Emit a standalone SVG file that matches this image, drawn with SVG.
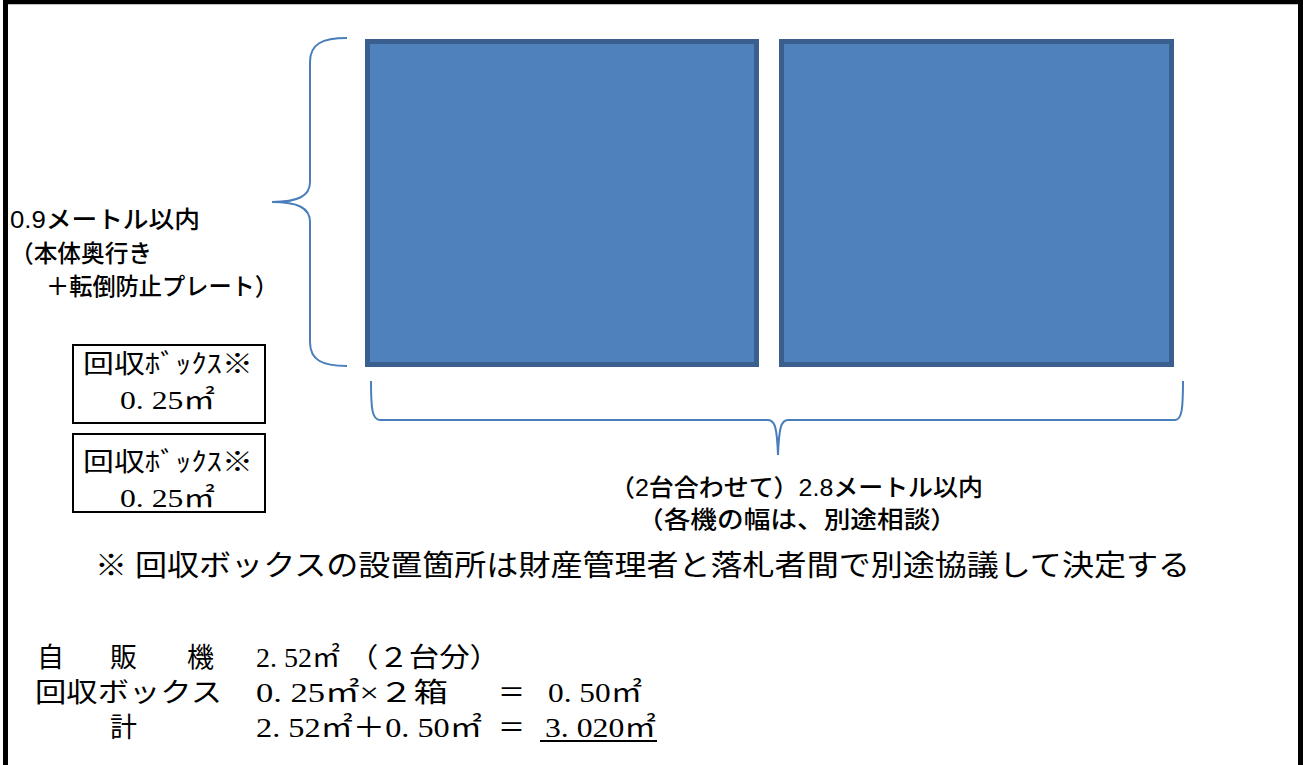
<svg xmlns="http://www.w3.org/2000/svg" width="1303" height="765" viewBox="0 0 1303 765">
<style>
.frame{stroke:#000;fill:none}
.machine{fill:#4F81BD;stroke:#3A5F8F;stroke-width:5}
.brace{fill:none;stroke:#4A7EBB;stroke-width:2}
.box{fill:#fff;stroke:#000;stroke-width:2}
.sans{font-family:"Liberation Sans","Noto Sans CJK JP",sans-serif;fill:#000;font-weight:500}
.serif{font-family:"Liberation Serif","Noto Sans CJK JP",serif;fill:#000}
</style>
<rect width="1303" height="765" fill="#fff"/>
<g id="frame" class="frame">
<line x1="3" y1="2" x2="1303" y2="2" stroke-width="4.5"/>
<line x1="5.5" y1="0" x2="5.5" y2="765" stroke-width="5"/>
<line x1="1300.5" y1="0" x2="1300.5" y2="765" stroke-width="5"/>
</g>
<g id="machine1"><rect class="machine" x="367.5" y="41.5" width="389" height="323"/></g>
<g id="machine2"><rect class="machine" x="781.5" y="41.5" width="390" height="323"/></g>
<g id="connectors">
<path class="brace" d="M347,38 C322,38 310,44 310,62 L310,182 C310,196 298,202 272,202 C298,202 310,208 310,222 L310,342 C310,360 322,366 347,366"/>
<path class="brace" d="M371,381 C371,408 372,420 380,420 L768,420 C775,420 777,428 778,455 C779,428 781,420 788,420 L1175,420 C1182,420 1183,408 1183,381"/>
</g>
<g id="depth-label" class="sans" font-size="24">
<text x="10" y="228" textLength="190" lengthAdjust="spacingAndGlyphs">0.9メートル以内</text>
<text x="10" y="262" textLength="142" lengthAdjust="spacingAndGlyphs">（本体奥行き</text>
<text x="46" y="295" textLength="232" lengthAdjust="spacingAndGlyphs">＋転倒防止プレート）</text>
</g>
<g id="box1">
<rect class="box" x="73" y="345" width="192" height="78"/>
<text class="serif" x="83" y="373" font-size="26" textLength="170" lengthAdjust="spacingAndGlyphs">回収ﾎﾞｯｸｽ※</text>
<text class="serif" x="120" y="409" font-size="26" textLength="95" lengthAdjust="spacingAndGlyphs">0. 25㎡</text>
</g>
<g id="box2">
<rect class="box" x="73" y="434" width="192" height="78"/>
<text class="serif" x="83" y="471" font-size="26" textLength="170" lengthAdjust="spacingAndGlyphs">回収ﾎﾞｯｸｽ※</text>
<text class="serif" x="120" y="507" font-size="26" textLength="95" lengthAdjust="spacingAndGlyphs">0. 25㎡</text>
</g>
<g id="width-label" class="sans" font-size="24">
<text x="610" y="496" textLength="373" lengthAdjust="spacingAndGlyphs">（2台合わせて）2.8メートル以内</text>
<text x="637" y="528" textLength="320" lengthAdjust="spacingAndGlyphs">（各機の幅は、別途相談）</text>
</g>
<g id="note">
<text class="serif" x="95" y="576" font-size="29" textLength="1095" lengthAdjust="spacingAndGlyphs">※ 回収ボックスの設置箇所は財産管理者と落札者間で別途協議して決定する</text>
</g>
<g id="summary" class="serif" font-size="27">
<text x="37" y="667">自</text>
<text x="110" y="667">販</text>
<text x="187" y="667">機</text>
<text x="256" y="667" textLength="84" lengthAdjust="spacingAndGlyphs">2. 52㎡</text>
<text x="348" y="667" textLength="152" lengthAdjust="spacingAndGlyphs">（２台分）</text>
<text x="35" y="702" textLength="187" lengthAdjust="spacingAndGlyphs">回収ボックス</text>
<text x="256" y="702" textLength="192" lengthAdjust="spacingAndGlyphs">0. 25㎡×２箱</text>
<text x="498" y="702">＝</text>
<text x="548" y="702" textLength="94" lengthAdjust="spacingAndGlyphs">0. 50㎡</text>
<text x="110" y="737">計</text>
<text x="256" y="737" textLength="226" lengthAdjust="spacingAndGlyphs">2. 52㎡＋0. 50㎡</text>
<text x="498" y="737">＝</text>
<text x="545" y="737" textLength="111" lengthAdjust="spacingAndGlyphs">3. 020㎡</text>
<line x1="540" y1="741" x2="657" y2="741" stroke="#000" stroke-width="2"/>
</g>
</svg>
